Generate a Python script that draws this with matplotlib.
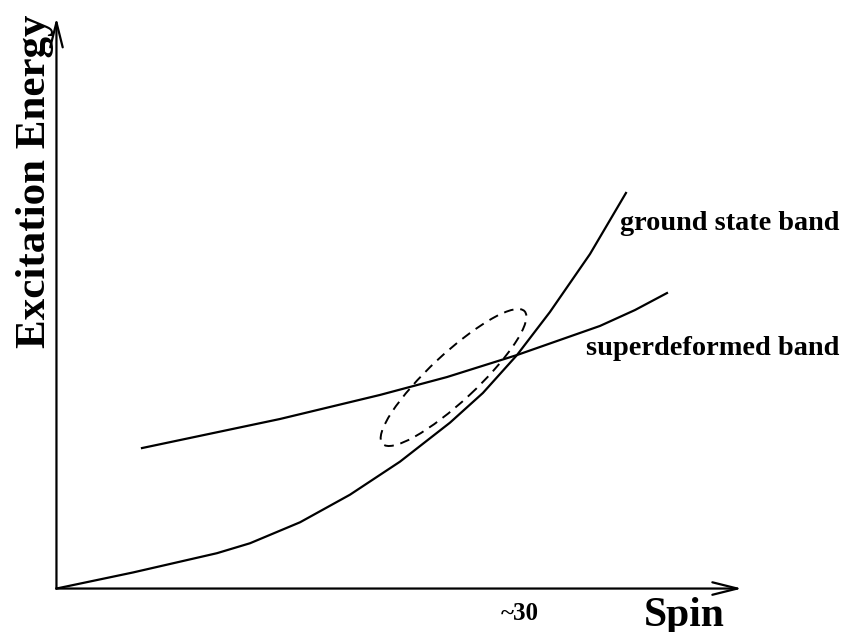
import matplotlib
matplotlib.use("Agg")
import matplotlib.pyplot as plt
from matplotlib.patches import Ellipse, FancyArrowPatch

# ground state band (spin, excitation energy) - arbitrary units
gs_spin = [0.0, 5.0, 10.49, 12.65, 15.92, 19.18, 22.45, 25.72, 27.87, 30.1, 32.25, 34.87, 37.22]
gs_energy = [0.0, 1.05, 2.31, 2.96, 4.33, 6.13, 8.29, 10.84, 12.78, 15.26, 18.07, 21.86, 25.85]

# superdeformed band
sd_spin = [5.59, 14.61, 21.14, 25.52, 30.1, 35.52, 37.81, 39.9]
sd_energy = [9.18, 11.08, 12.65, 13.82, 15.26, 17.16, 18.2, 19.31]

# region where the two bands cross
cross_center = (25.95, 13.79)
cross_width = 12.7
cross_height = 3.1
cross_angle = 43

crossing_label = "~30"

plt.rcParams['font.family'] = ['Liberation Serif', 'DejaVu Serif']

fig = plt.figure(figsize=(8.44, 6.32), dpi=100)
ax = fig.add_axes([0, 0, 1, 1])
ax.set_xlim(-3.69, 51.47)
ax.set_ylim(-2.84, 38.46)
ax.axis('off')

# axes drawn as arrows
for end in [(44.8, 0.0), (0.0, 37.3)]:
    ax.add_patch(FancyArrowPatch((0.0, 0.0), end, arrowstyle='->, head_length=18, head_width=4.5',
                                 mutation_scale=1, lw=1.6, color='black', shrinkA=0, shrinkB=0))

ax.plot(gs_spin, gs_energy, color='black', lw=1.6)
ax.plot(sd_spin, sd_energy, color='black', lw=1.6)

ax.add_patch(Ellipse(cross_center, cross_width, cross_height, angle=cross_angle,
                     fill=False, ls=(0, (5, 3.5)), lw=1.4, color='black'))

ax.text(36.86, 23.46, 'ground state band', fontsize=20.3, fontweight='bold', va='baseline', ha='left')
ax.text(34.64, 15.23, 'superdeformed band', fontsize=20.4, fontweight='bold', va='baseline', ha='left')
ax.text(30.3, -2.03, crossing_label, fontsize=18, fontweight='bold', va='baseline', ha='center')
ax.text(38.4, -2.48, 'Spin', fontsize=30, fontweight='bold', va='baseline', ha='left')
ax.text(-1.37, 26.6, 'Excitation Energy', fontsize=31, fontweight='bold', rotation=90,
        va='center', ha='center')

fig.savefig('out.png', dpi=100)
